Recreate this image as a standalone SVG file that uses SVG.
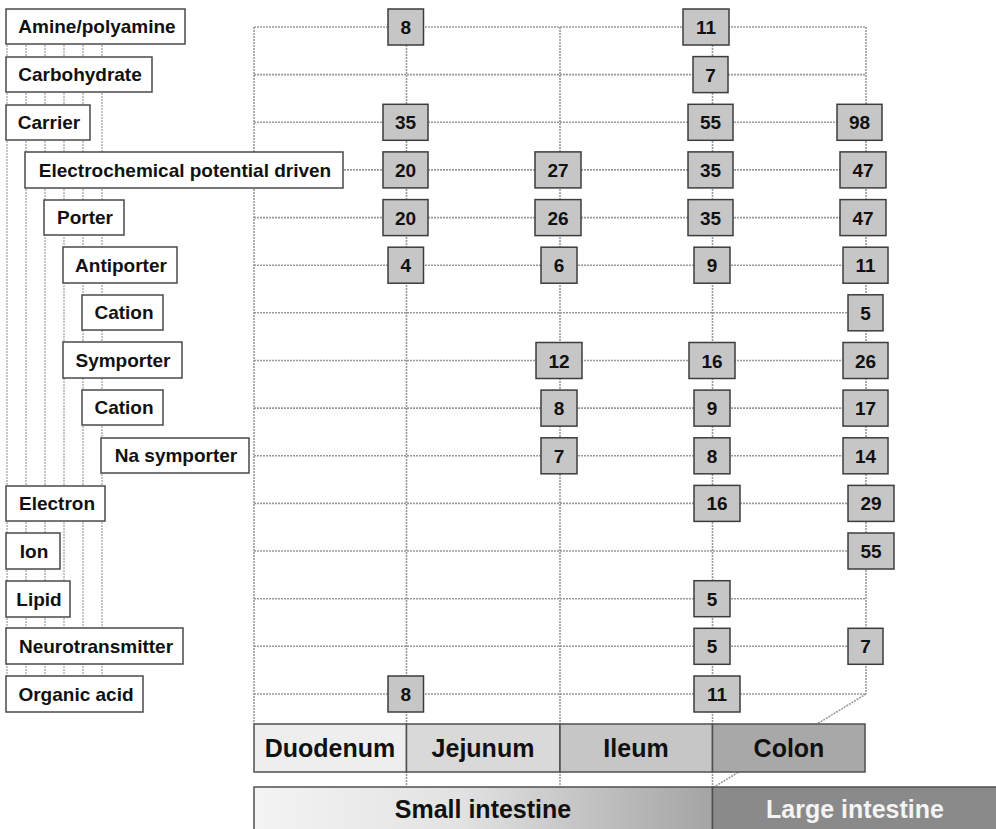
<svg xmlns="http://www.w3.org/2000/svg" width="996" height="829" viewBox="0 0 996 829">
<defs>
<linearGradient id="smallGrad" x1="0" y1="0" x2="1" y2="0">
<stop offset="0" stop-color="#f4f4f4"/>
<stop offset="0.45" stop-color="#e2e2e2"/>
<stop offset="1" stop-color="#a4a4a4"/>
</linearGradient>
</defs>
<style>
.grid{stroke:#999999;stroke-width:1.6;stroke-dasharray:2 1;fill:none}
.tree{stroke:#adadad;stroke-width:1.4;stroke-dasharray:2 1;fill:none}
.lbl rect{fill:#ffffff;stroke:#4a4a4a;stroke-width:1.5}
.lbl text{font-family:"Liberation Sans",Arial,sans-serif;font-weight:bold;font-size:19px;fill:#111;text-anchor:middle}
.val rect{fill:#c6c6c6;stroke:#3c3c3c;stroke-width:1.5}
.val text{font-family:"Liberation Sans",Arial,sans-serif;font-weight:bold;font-size:19px;fill:#111;text-anchor:middle}
.seg rect{stroke:#505050;stroke-width:1.5}
.seg text{font-family:"Liberation Sans",Arial,sans-serif;font-weight:bold;font-size:25px;fill:#111;text-anchor:middle}
</style>

<g id="connectors">
<line class="tree" x1="7" y1="27" x2="7" y2="712"/>
<line class="tree" x1="26" y1="27" x2="26" y2="712"/>
<line class="tree" x1="45" y1="27" x2="45" y2="712"/>
<line class="tree" x1="64" y1="27" x2="64" y2="712"/>
<line class="tree" x1="83" y1="27" x2="83" y2="712"/>
<line class="tree" x1="102" y1="27" x2="102" y2="712"/>
<line class="grid" x1="254" y1="27" x2="866" y2="27"/>
<line class="grid" x1="254" y1="74.6" x2="866" y2="74.6"/>
<line class="grid" x1="254" y1="122.3" x2="866" y2="122.3"/>
<line class="grid" x1="254" y1="169.9" x2="866" y2="169.9"/>
<line class="grid" x1="254" y1="217.6" x2="866" y2="217.6"/>
<line class="grid" x1="254" y1="265.2" x2="866" y2="265.2"/>
<line class="grid" x1="254" y1="312.8" x2="866" y2="312.8"/>
<line class="grid" x1="254" y1="360.5" x2="866" y2="360.5"/>
<line class="grid" x1="254" y1="408.1" x2="866" y2="408.1"/>
<line class="grid" x1="254" y1="455.8" x2="866" y2="455.8"/>
<line class="grid" x1="254" y1="503.4" x2="866" y2="503.4"/>
<line class="grid" x1="254" y1="551" x2="866" y2="551"/>
<line class="grid" x1="254" y1="598.7" x2="866" y2="598.7"/>
<line class="grid" x1="254" y1="646.3" x2="866" y2="646.3"/>
<line class="grid" x1="254" y1="694" x2="866" y2="694"/>
<line class="grid" x1="254" y1="27" x2="254" y2="724"/>
<line class="grid" x1="406.5" y1="27" x2="406.5" y2="787"/>
<line class="grid" x1="560" y1="27" x2="560" y2="787"/>
<line class="grid" x1="712.5" y1="27" x2="712.5" y2="787"/>
<line class="grid" x1="866" y1="27" x2="866" y2="694"/>
<line class="grid" x1="866" y1="694" x2="712.5" y2="788"/>
</g>

<g id="label-amine" class="lbl"><rect x="6" y="9" width="179" height="35"/><text x="97" y="33">Amine/polyamine</text></g>
<g id="label-carbohydrate" class="lbl"><rect x="6" y="57" width="146" height="35"/><text x="80" y="81">Carbohydrate</text></g>
<g id="label-carrier" class="lbl"><rect x="6" y="105" width="84" height="35"/><text x="49" y="129">Carrier</text></g>
<g id="label-electrochemical" class="lbl"><rect x="25" y="152" width="318" height="36"/><text x="185" y="177">Electrochemical potential driven</text></g>
<g id="label-porter" class="lbl"><rect x="44" y="200" width="80" height="35"/><text x="85" y="224">Porter</text></g>
<g id="label-antiporter" class="lbl"><rect x="63" y="247" width="114" height="36"/><text x="121" y="272">Antiporter</text></g>
<g id="label-cation1" class="lbl"><rect x="82" y="295" width="81" height="35"/><text x="124" y="319">Cation</text></g>
<g id="label-symporter" class="lbl"><rect x="63" y="342" width="119" height="36"/><text x="123" y="367">Symporter</text></g>
<g id="label-cation2" class="lbl"><rect x="82" y="390" width="81" height="35"/><text x="124" y="414">Cation</text></g>
<g id="label-na-symporter" class="lbl"><rect x="101" y="438" width="148" height="35"/><text x="176" y="462">Na symporter</text></g>
<g id="label-electron" class="lbl"><rect x="6" y="486" width="99" height="35"/><text x="57" y="510">Electron</text></g>
<g id="label-ion" class="lbl"><rect x="6" y="533" width="54" height="36"/><text x="34" y="558">Ion</text></g>
<g id="label-lipid" class="lbl"><rect x="6" y="581" width="64" height="36"/><text x="39" y="606">Lipid</text></g>
<g id="label-neurotransmitter" class="lbl"><rect x="6" y="628" width="177" height="36"/><text x="96" y="653">Neurotransmitter</text></g>
<g id="label-organic-acid" class="lbl"><rect x="6" y="676" width="137" height="36"/><text x="76" y="701">Organic acid</text></g>

<g id="v-r0-duo" class="val"><rect x="388" y="9" width="35.5" height="36"/><text x="405.7" y="34">8</text></g>
<g id="v-r0-ile" class="val"><rect x="683" y="9" width="46" height="36"/><text x="706" y="34">11</text></g>
<g id="v-r1-ile" class="val"><rect x="693" y="56.6" width="35" height="36"/><text x="710.5" y="81.6">7</text></g>
<g id="v-r2-duo" class="val"><rect x="383" y="104.3" width="45" height="36"/><text x="405.5" y="129.3">35</text></g>
<g id="v-r2-ile" class="val"><rect x="688" y="104.3" width="45" height="36"/><text x="710.5" y="129.3">55</text></g>
<g id="v-r2-col" class="val"><rect x="837" y="104.3" width="45" height="36"/><text x="859.5" y="129.3">98</text></g>
<g id="v-r3-duo" class="val"><rect x="383" y="151.9" width="45" height="36"/><text x="405.5" y="176.9">20</text></g>
<g id="v-r3-jej" class="val"><rect x="535" y="151.9" width="46" height="36"/><text x="558" y="176.9">27</text></g>
<g id="v-r3-ile" class="val"><rect x="688" y="151.9" width="45" height="36"/><text x="710.5" y="176.9">35</text></g>
<g id="v-r3-col" class="val"><rect x="840" y="151.9" width="46" height="36"/><text x="863" y="176.9">47</text></g>
<g id="v-r4-duo" class="val"><rect x="383" y="199.6" width="45" height="36"/><text x="405.5" y="224.6">20</text></g>
<g id="v-r4-jej" class="val"><rect x="535" y="199.6" width="46" height="36"/><text x="558" y="224.6">26</text></g>
<g id="v-r4-ile" class="val"><rect x="688" y="199.6" width="45" height="36"/><text x="710.5" y="224.6">35</text></g>
<g id="v-r4-col" class="val"><rect x="840" y="199.6" width="46" height="36"/><text x="863" y="224.6">47</text></g>
<g id="v-r5-duo" class="val"><rect x="388" y="247.2" width="35.5" height="36"/><text x="405.7" y="272.2">4</text></g>
<g id="v-r5-jej" class="val"><rect x="541" y="247.2" width="36" height="36"/><text x="559" y="272.2">6</text></g>
<g id="v-r5-ile" class="val"><rect x="694" y="247.2" width="36" height="36"/><text x="712" y="272.2">9</text></g>
<g id="v-r5-col" class="val"><rect x="843" y="247.2" width="45" height="36"/><text x="865.5" y="272.2">11</text></g>
<g id="v-r6-col" class="val"><rect x="848" y="294.8" width="35" height="36"/><text x="865.5" y="319.8">5</text></g>
<g id="v-r7-jej" class="val"><rect x="536" y="342.5" width="46" height="36"/><text x="559" y="367.5">12</text></g>
<g id="v-r7-ile" class="val"><rect x="689" y="342.5" width="46" height="36"/><text x="712" y="367.5">16</text></g>
<g id="v-r7-col" class="val"><rect x="843" y="342.5" width="45" height="36"/><text x="865.5" y="367.5">26</text></g>
<g id="v-r8-jej" class="val"><rect x="541" y="390.1" width="36" height="36"/><text x="559" y="415.1">8</text></g>
<g id="v-r8-ile" class="val"><rect x="694" y="390.1" width="36" height="36"/><text x="712" y="415.1">9</text></g>
<g id="v-r8-col" class="val"><rect x="843" y="390.1" width="45" height="36"/><text x="865.5" y="415.1">17</text></g>
<g id="v-r9-jej" class="val"><rect x="541" y="437.8" width="36" height="36"/><text x="559" y="462.8">7</text></g>
<g id="v-r9-ile" class="val"><rect x="694" y="437.8" width="36" height="36"/><text x="712" y="462.8">8</text></g>
<g id="v-r9-col" class="val"><rect x="843" y="437.8" width="45" height="36"/><text x="865.5" y="462.8">14</text></g>
<g id="v-r10-ile" class="val"><rect x="694" y="485.4" width="46" height="36"/><text x="717" y="510.4">16</text></g>
<g id="v-r10-col" class="val"><rect x="848" y="485.4" width="46" height="36"/><text x="871" y="510.4">29</text></g>
<g id="v-r11-col" class="val"><rect x="848" y="533" width="46" height="36"/><text x="871" y="558">55</text></g>
<g id="v-r12-ile" class="val"><rect x="694" y="580.7" width="36" height="36"/><text x="712" y="605.7">5</text></g>
<g id="v-r13-ile" class="val"><rect x="694" y="628.3" width="36" height="36"/><text x="712" y="653.3">5</text></g>
<g id="v-r13-col" class="val"><rect x="848" y="628.3" width="35" height="36"/><text x="865.5" y="653.3">7</text></g>
<g id="v-r14-duo" class="val"><rect x="388" y="676" width="35.5" height="36"/><text x="405.7" y="701">8</text></g>
<g id="v-r14-ile" class="val"><rect x="694" y="676" width="46" height="36"/><text x="717" y="701">11</text></g>

<g id="seg-duodenum" class="seg"><rect x="254" y="724" width="152.5" height="48" fill="#eeeeee"/><text x="330" y="757">Duodenum</text></g>
<g id="seg-jejunum" class="seg"><rect x="406.5" y="724" width="153.5" height="48" fill="#d9d9d9"/><text x="483" y="757">Jejunum</text></g>
<g id="seg-ileum" class="seg"><rect x="560" y="724" width="152.5" height="48" fill="#c6c6c6"/><text x="636" y="757">Ileum</text></g>
<g id="seg-colon" class="seg"><rect x="712.5" y="724" width="152.5" height="48" fill="#a8a8a8"/><text x="789" y="757">Colon</text></g>

<g id="bar-small-intestine" class="seg"><rect x="254" y="787" width="458.5" height="50" fill="url(#smallGrad)"/><text x="483" y="818">Small intestine</text></g>
<g id="bar-large-intestine" class="seg"><rect x="712.5" y="787" width="290" height="50" fill="#8a8a8a"/><text x="855" y="818" style="fill:#f4f4f4">Large intestine</text></g>
</svg>
